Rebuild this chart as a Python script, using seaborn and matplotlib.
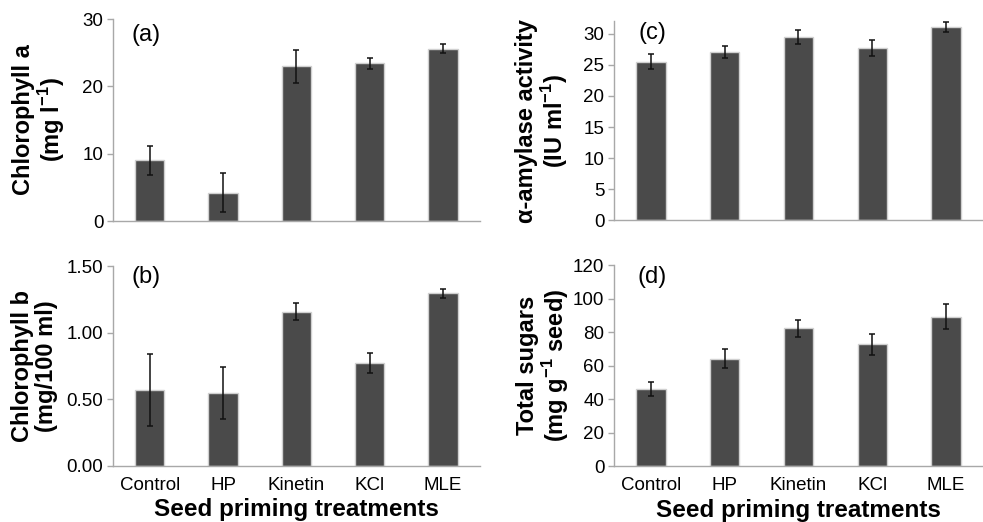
import matplotlib
matplotlib.use("Agg")
import matplotlib.pyplot as plt
import seaborn as sns

treatments = ['Control', 'HP', 'Kinetin', 'KCl', 'MLE']

chl_a = [9.0, 4.2, 23.0, 23.4, 25.6]
chl_a_err = [2.1, 2.9, 2.45, 0.8, 0.7]

chl_b = [0.57, 0.545, 1.157, 0.77, 1.295]
chl_b_err = [0.27, 0.195, 0.065, 0.075, 0.035]

amylase = [25.5, 27.0, 29.45, 27.7, 31.05]
amylase_err = [1.25, 0.95, 1.1, 1.3, 0.85]

sugars = [46.0, 64.2, 82.4, 72.8, 89.3]
sugars_err = [4.3, 5.6, 5.0, 6.3, 7.4]

sns.set_theme(style='white')
plt.rcParams['font.family'] = ['Liberation Sans', 'DejaVu Sans']
plt.rcParams['mathtext.fontset'] = 'custom'
plt.rcParams['mathtext.rm'] = 'Liberation Sans'
plt.rcParams['mathtext.bf'] = 'Liberation Sans:bold'
plt.rcParams['text.color'] = 'black'
plt.rcParams['axes.labelcolor'] = 'black'

bar_col = '#4a4a4a'
axis_col = '#a8a8a8'

fig = plt.figure(figsize=(9.83, 5.22), dpi=100)
ax_a = fig.add_axes([0.115, 0.5766, 0.373, 0.387])
ax_b = fig.add_axes([0.115, 0.1073, 0.373, 0.383])
ax_c = fig.add_axes([0.6246, 0.5776, 0.3754, 0.382])
ax_d = fig.add_axes([0.6246, 0.1067, 0.3754, 0.385])

panels = [
    (ax_a, chl_a, chl_a_err, 'Chlorophyll a\n(mg l$^{\\mathbf{-1}}$)', '(a)',
     (0, 30), [0, 10, 20, 30], '{:.0f}', -0.20, 0.92),
    (ax_b, chl_b, chl_b_err, 'Chlorophyll b\n(mg/100 ml)', '(b)',
     (0, 1.5), [0, 0.5, 1.0, 1.5], '{:.2f}', -0.213, 0.947),
    (ax_c, amylase, amylase_err, 'α-amylase activity\n(IU ml$^{\\mathbf{-1}}$)', '(c)',
     (0, 32), [0, 5, 10, 15, 20, 25, 30], '{:.0f}', -0.194, 0.94),
    (ax_d, sugars, sugars_err, 'Total sugars\n(mg g$^{\\mathbf{-1}}$ seed)', '(d)',
     (0, 120), [0, 20, 40, 60, 80, 100, 120], '{:.0f}', -0.192, 0.943),
]

for ax, vals, errs, ylab, tag, ylim, yticks, fmt, labx, tagy in panels:
    sns.barplot(x=treatments, y=vals, ax=ax, color=bar_col, width=0.4,
                edgecolor='#d0d0d0', linewidth=1, saturation=1)
    ax.errorbar(range(len(treatments)), vals, yerr=errs, fmt='none',
                ecolor='#111111', elinewidth=1.1, capsize=2.5, capthick=1.1)
    ax.set_ylim(*ylim)
    ax.set_xlim(-0.5, len(treatments) - 0.5)
    ax.set_yticks(yticks)
    ax.set_yticklabels([fmt.format(t) for t in yticks])
    for s in ['top', 'right']:
        ax.spines[s].set_visible(False)
    for s in ['left', 'bottom']:
        ax.spines[s].set_color(axis_col)
        ax.spines[s].set_linewidth(1)
    ax.tick_params(axis='y', length=4, width=1, color=axis_col, pad=3,
                   labelsize=13.5, labelcolor='black', left=True)
    ax.tick_params(axis='x', length=0, pad=8, labelsize=13.5, labelcolor='black')
    ax.set_ylabel(ylab, fontsize=17, fontweight='bold', linespacing=1.05,
                  color='black')
    ax.yaxis.label.set_va('center')
    ax.yaxis.set_label_coords(labx, 0.5)
    ax.text(0.09 if tag in ('(a)', '(b)') else 0.103, tagy, tag,
            transform=ax.transAxes, ha='center', va='center', fontsize=17,
            color='black')

for ax in (ax_a, ax_c):
    ax.tick_params(axis='x', labelbottom=False)
    ax.set_xlabel('')

for ax in (ax_b, ax_d):
    ax.set_xlabel('Seed priming treatments', fontsize=17.5, fontweight='bold',
                  labelpad=3, color='black')

fig.savefig('out.png', dpi=100)
